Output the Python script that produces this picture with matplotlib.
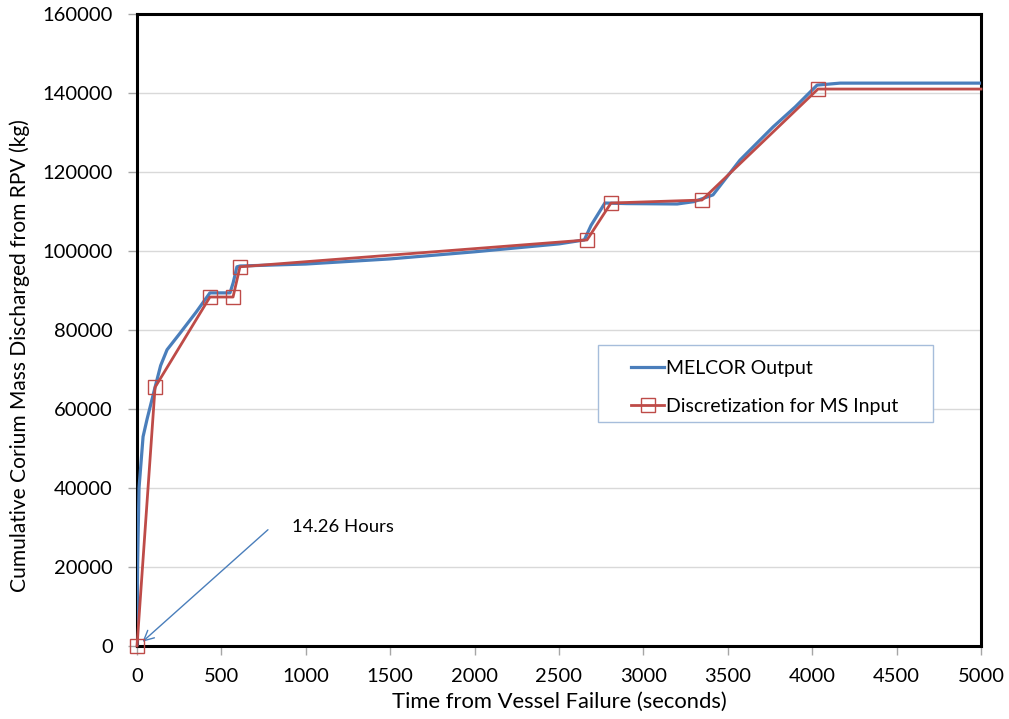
import matplotlib.pyplot as plt
from matplotlib.patches import Rectangle

plt.rcParams['font.family'] = ['Lato', 'DejaVu Sans']

# MELCOR output
melcor_t = [0, 3, 12, 36, 60, 107, 140, 178, 255, 350, 432, 551, 570, 592,
            610, 1000, 1500, 2000, 2500, 2650, 2690, 2772, 2900, 3200, 3300,
            3412, 3572, 3768, 3900, 4029, 4165, 5000]
melcor_m = [0, 20000, 40000, 53000, 57500, 65500, 71000, 75000, 79200, 84500,
            89400, 89400, 92000, 96000, 96200, 96700, 98000, 99800, 101800,
            102800, 106500, 112150, 112000, 111900, 112500, 114200, 123000,
            131400, 136500, 142000, 142500, 142500]

# discretization used for the MS input
disc_t = [0, 107, 432, 569, 610, 2666, 2808, 3347, 4034, 5000]
disc_m = [0, 65500, 88350, 88350, 96000, 102800, 112150, 112900, 141000, 141000]

blue = '#4A7EBB'
red = '#BE4B48'

fig = plt.figure(figsize=(10.09, 7.19), dpi=100)
ax = fig.add_axes([137 / 1009, 1 - 646 / 719, 844 / 1009, 632 / 719])

ax.plot(melcor_t, melcor_m, color=blue, lw=2.3, label='MELCOR Output', zorder=3)
ax.plot(disc_t, disc_m, color=red, lw=2.0, marker='s', markersize=10,
        markerfacecolor='none', markeredgecolor=red, markeredgewidth=1.0,
        markevery=list(range(len(disc_t) - 1)), clip_on=False,
        label='Discretization for MS Input', zorder=4)

ax.set_xlim(0, 5000)
ax.set_ylim(0, 160000)
ax.set_xticks(range(0, 5001, 500))
ax.set_yticks(range(0, 160001, 20000))
ax.yaxis.grid(True, color='#D9D9D9', lw=1)
ax.set_axisbelow(True)
for s in ax.spines.values():
    s.set_linewidth(2.2)
    s.set_color('black')
ax.tick_params(axis='both', labelsize=14.5, length=6.5, width=1,
               color='#A6A6A6', direction='out')
ax.tick_params(axis='y', pad=11)
ax.tick_params(axis='x', pad=9)
ax.set_xlabel('Time from Vessel Failure (seconds)', fontsize=15.8, labelpad=5)
ax.set_ylabel('Cumulative Corium Mass Discharged from RPV (kg)', fontsize=15.1)
ax.yaxis.set_label_coords(-0.127, 0.46)

# annotation
ax.annotate('', xy=(20, 600), xytext=(788, 29900),
            arrowprops=dict(arrowstyle='->', color=blue, lw=1.0,
                            mutation_scale=18))
ax.text(918, 30100, '14.26 Hours', fontsize=13.3, va='center', ha='left')

# legend
ax.add_patch(Rectangle((0.546, 0.354), 0.397, 0.122, transform=ax.transAxes,
                       facecolor='white', edgecolor='#A6BDDB', lw=1, zorder=5))
leg = ax.legend(loc='upper left', bbox_to_anchor=(0.568, 0.476), frameon=False,
                fontsize=14, handlelength=1.7, handletextpad=0.1,
                labelspacing=1.1, borderpad=0.25)
leg.set_zorder(6)

fig.savefig('out.png', dpi=100)
